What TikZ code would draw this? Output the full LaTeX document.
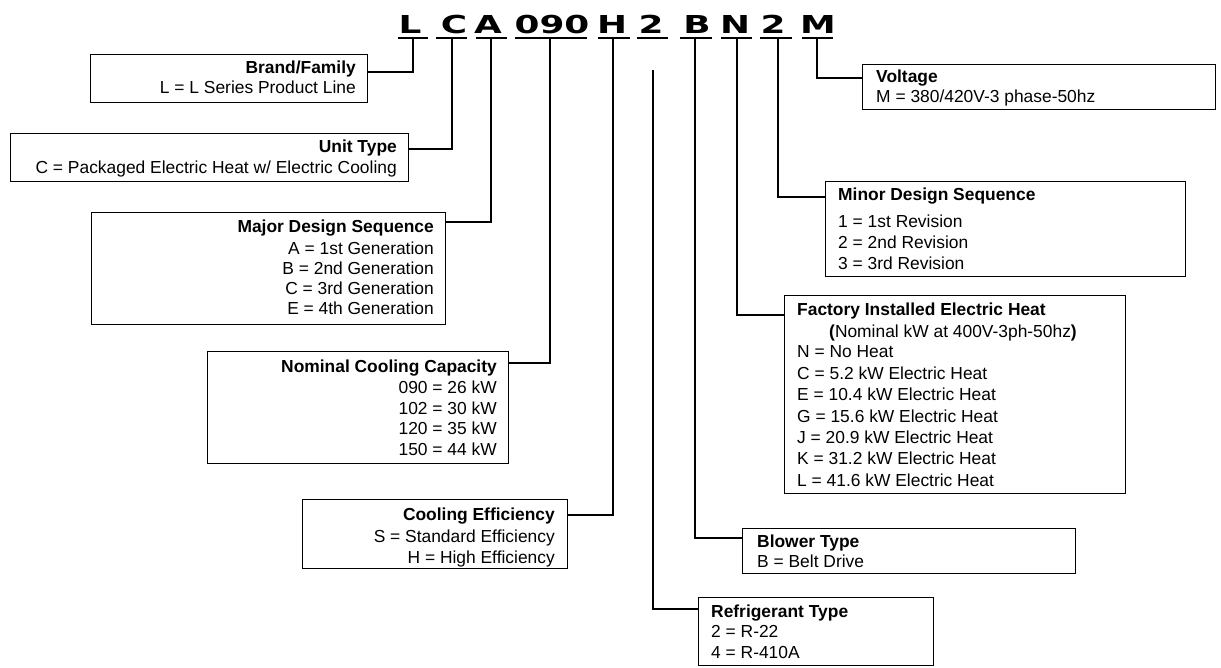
\documentclass[tikz,border=0pt]{standalone}
\usepackage{fontspec}
\setmainfont{Liberation Sans}
\newfontfamily\hdrfont{DejaVu Sans}
\newcommand\hdrwide[1]{\scalebox{1.45}[1]{#1}}
\tikzset{
  box/.style={draw, line width=1.4pt, rectangle, inner sep=0pt, anchor=north west},
  conn/.style={line width=2pt},
  uline/.style={line width=2pt},
  rt/.style={anchor=base east, inner sep=0pt, font=\fontsize{17.4}{20}\selectfont},
  rtb/.style={anchor=base east, inner sep=0pt, font=\bfseries\fontsize{17.4}{20}\selectfont},
  lt/.style={anchor=base west, inner sep=0pt, font=\fontsize{17.4}{20}\selectfont},
  ltb/.style={anchor=base west, inner sep=0pt, font=\bfseries\fontsize{17.4}{20}\selectfont},
  hd/.style={anchor=base, inner sep=0pt, font=\hdrfont\bfseries\fontsize{24.7}{26}\selectfont},
}
\begin{document}
\begin{tikzpicture}[x=1pt,y=-1pt]
\useasboundingbox (0,0) rectangle (1221,667);

% ---- header code letters ----
\node[hd] (hL) at (410,33) {\hdrwide{L}};
\node[hd] (hC) at (454,33) {\hdrwide{C}};
\node[hd] (hA) at (488,33) {\hdrwide{A}};
\node[hd] (h090) at (552,33) {\hdrwide{090}};
\node[hd] (hH) at (612,33) {\hdrwide{H}};
\node[hd] (hR) at (651,33) {\hdrwide{2}};
\node[hd] (hB) at (697,33) {\hdrwide{B}};
\node[hd] (hN) at (735,33) {\hdrwide{N}};
\node[hd] (hM2) at (773,33) {\hdrwide{2}};
\node[hd] (hM) at (818,33) {\hdrwide{M}};

% underline centres
\coordinate (uL) at (413,38);
\coordinate (uC) at (452,38);
\coordinate (uA) at (491,38);
\coordinate (u090) at (550,38);
\coordinate (uH) at (613,38);
\coordinate (uR) at (653,38);
\coordinate (uB) at (695,38);
\coordinate (uN) at (737,38);
\coordinate (uM2) at (778,38);
\coordinate (uM) at (817,38);
\coordinate (rTop) at (653,70);

\draw[uline] (398,38) -- (428,38);
\draw[uline] (436,38) -- (467,38);
\draw[uline] (476,38) -- (507,38);
\draw[uline] (515,38) -- (587,38);
\draw[uline] (598,38) -- (630,38);
\draw[uline] (637,38) -- (668,38);
\draw[uline] (680,38) -- (712,38);
\draw[uline] (721,38) -- (752,38);
\draw[uline] (760,38) -- (792,38);
\draw[uline] (802,38) -- (833,38);

% ---- boxes ----
\node[box, minimum width=277pt, minimum height=48pt] (brand) at (90,54) {};
\node[box, minimum width=398pt, minimum height=48pt] (unit) at (10,133) {};
\node[box, minimum width=354pt, minimum height=112pt] (major) at (91,212) {};
\node[box, minimum width=301pt, minimum height=112pt] (nominal) at (207,351) {};
\node[box, minimum width=265pt, minimum height=69pt] (cooling) at (302,499) {};
\node[box, minimum width=353pt, minimum height=45pt] (voltage) at (862,64) {};
\node[box, minimum width=360pt, minimum height=95pt] (minor) at (825,181) {};
\node[box, minimum width=341pt, minimum height=198pt] (factory) at (784,295) {};
\node[box, minimum width=333pt, minimum height=45pt] (blower) at (742,528) {};
\node[box, minimum width=235pt, minimum height=68pt] (refrig) at (698,597) {};

% ---- connectors ----
\draw[conn] (uL) |- (brand.east |- 0,72);
\draw[conn] (uC) |- (unit.east |- 0,149);
\draw[conn] (uA) |- (major.east |- 0,222);
\draw[conn] (u090) |- (nominal.east |- 0,363);
\draw[conn] (uH) |- (cooling.east |- 0,515);
\draw[conn] (rTop) |- (refrig.west |- 0,609);
\draw[conn] (uB) |- (blower.west |- 0,538);
\draw[conn] (uN) |- (factory.west |- 0,315);
\draw[conn] (uM2) |- (minor.west |- 0,197);
\draw[conn] (uM) |- (voltage.west |- 0,78);

% ---- left box texts ----
\node[rtb] (brand1) at (356,73) {Brand/Family};
\node[rt]  (brand2) at (356,93) {L = L Series Product Line};

\node[rtb] (unit1) at (397,152) {Unit Type};
\node[rt]  (unit2) at (397,173) {C = Packaged Electric Heat w/ Electric Cooling};

\node[rtb] (major1) at (434,232) {Major Design Sequence};
\node[rt]  (major2) at (434,254) {A = 1st Generation};
\node[rt]  (major3) at (434,274) {B = 2nd Generation};
\node[rt]  (major4) at (434,294) {C = 3rd Generation};
\node[rt]  (major5) at (434,314) {E = 4th Generation};

\node[rtb] (nom1) at (497,372) {Nominal Cooling Capacity};
\node[rt]  (nom2) at (497,393) {090 = 26 kW};
\node[rt]  (nom3) at (497,414) {102 = 30 kW};
\node[rt]  (nom4) at (497,434) {120 = 35 kW};
\node[rt]  (nom5) at (497,455) {150 = 44 kW};

\node[rtb] (cool1) at (555,520) {Cooling Efficiency};
\node[rt]  (cool2) at (555,542) {S = Standard Efficiency};
\node[rt]  (cool3) at (555,563) {H = High Efficiency};

% ---- right box texts ----
\node[ltb] (volt1) at (876,82) {Voltage};
\node[lt]  (volt2) at (876,102) {M = 380/420V-3 phase-50hz};

\node[ltb] (min1) at (838,200) {Minor Design Sequence};
\node[lt]  (min2) at (838,227) {1 = 1st Revision};
\node[lt]  (min3) at (838,248) {2 = 2nd Revision};
\node[lt]  (min4) at (838,269) {3 = 3rd Revision};

\node[ltb] (fac1) at (797,315) {Factory Installed Electric Heat};
\node[lt]  (fac2) at (829,337) {\textbf{(}Nominal kW at 400V-3ph-50hz\textbf{)}};
\node[lt]  (fac3) at (797,357) {N = No Heat};
\node[lt]  (fac4) at (797,379) {C = 5.2 kW Electric Heat};
\node[lt]  (fac5) at (797,400) {E = 10.4 kW Electric Heat};
\node[lt]  (fac6) at (797,422) {G = 15.6 kW Electric Heat};
\node[lt]  (fac7) at (797,443) {J = 20.9 kW Electric Heat};
\node[lt]  (fac8) at (797,464) {K = 31.2 kW Electric Heat};
\node[lt]  (fac9) at (797,486) {L = 41.6 kW Electric Heat};

\node[ltb] (blow1) at (757,547) {Blower Type};
\node[lt]  (blow2) at (757,567) {B = Belt Drive};

\node[ltb] (ref1) at (711,617) {Refrigerant Type};
\node[lt]  (ref2) at (711,637) {2 = R-22};
\node[lt]  (ref3) at (711,658) {4 = R-410A};
\end{tikzpicture}
\end{document}
